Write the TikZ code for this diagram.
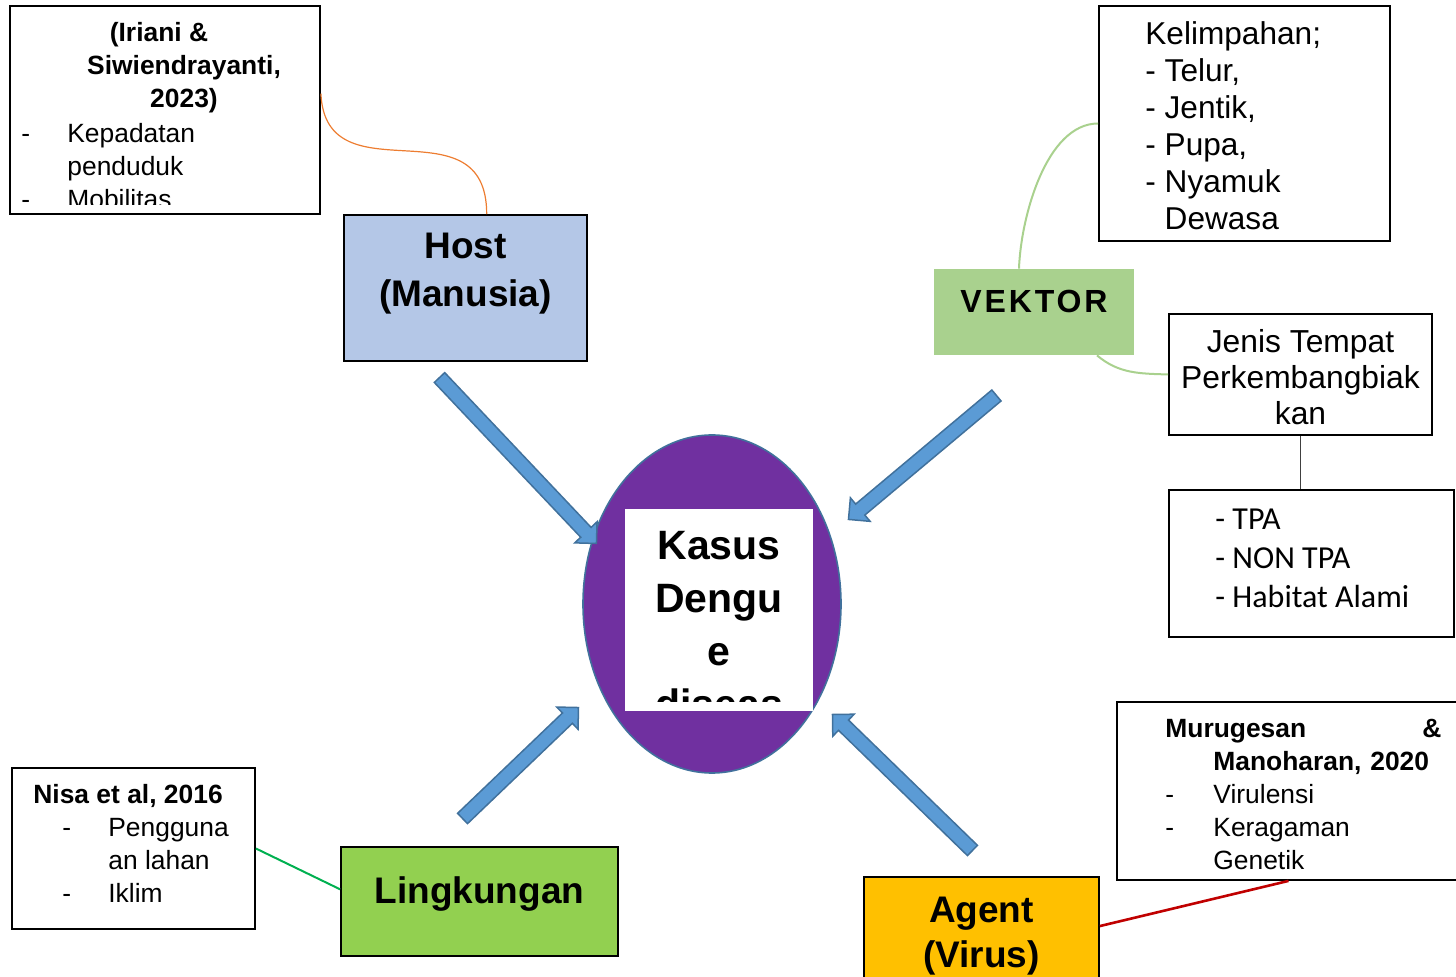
\documentclass[tikz,border=0pt]{standalone}
\usepackage{fontspec}
\setmainfont{Liberation Sans}
\newfontfamily\calibrilike{Carlito}
\usetikzlibrary{shapes.geometric,shapes.arrows,calc}

\definecolor{hostfill}{HTML}{B4C7E7}
\definecolor{vektorfill}{HTML}{A9D18E}
\definecolor{lingkfill}{HTML}{92D050}
\definecolor{agentfill}{HTML}{FFC000}
\definecolor{dengue}{HTML}{7030A0}
\definecolor{arrowblue}{HTML}{5B9BD5}
\definecolor{arrowedge}{HTML}{41719C}
\definecolor{linkorange}{HTML}{ED7D31}
\definecolor{linkgreen}{HTML}{00B050}
\definecolor{linkred}{HTML}{C00000}

\tikzset{
  refbox/.style={draw, line width=0.9pt, inner sep=0pt},
  factor/.style={draw, line width=0.9pt, inner sep=0pt},
  factorlabel/.style={font=\bfseries\fontsize{18.5}{24}\selectfont, align=center, inner sep=0pt},
  refnote/.style={font=\fontsize{13.2}{16.5}\selectfont, align=left, inner sep=0pt},
  bignote/.style={font=\fontsize{15.8}{18.5}\selectfont, inner sep=0pt},
  bigarrow/.style={single arrow, draw=arrowedge, fill=arrowblue, line width=0.75pt,
    inner sep=3.2pt, single arrow head extend=4.1pt},
}
% block arrow from #2 to #3, named #1
\newcommand{\blockarrow}[3]{\path let \p1=($(#3)-(#2)$), \n1={veclen(\x1,\y1)}, \n2={atan2(\y1,\x1)} in node[bigarrow, minimum height=\n1, rotate=\n2, anchor=tail] (#1) at (#2) {};}

\begin{document}
\begin{tikzpicture}[x=0.5pt, y=-0.5pt]
\useasboundingbox (0,0) rectangle (1456,977);
\clip (0,0) rectangle (1456,977);

% centre
\node[ellipse, draw=arrowedge, fill=dengue, line width=0.8pt, minimum width=129pt, minimum height=169pt, inner sep=0pt] (disease) at (712,604) {};
\node[fill=white, minimum width=94pt, minimum height=101pt, inner sep=0pt] (kasusbox) at (719,610) {};
\begin{scope}
  \clip (kasusbox.north west) rectangle ([yshift=5pt]kasusbox.south east);
  \node[font=\bfseries\fontsize{20.5}{26.5}\selectfont, align=center, inner sep=0pt] (kasustext) at (719,625.5) {Kasus\\Dengu\\e\\diseas};
\end{scope}

% factors
\node[factor, fill=hostfill, minimum width=121.5pt, minimum height=73pt] (host) at (465.5,288) {};
\node[factorlabel, yshift=7pt] (hostlabel) at (host) {Host\\(Manusia)};
\node[fill=vektorfill, minimum width=100pt, minimum height=43pt, inner sep=0pt] (vektor) at (1034,312) {};
\node[font=\bfseries\fontsize{16}{19}\selectfont\addfontfeature{LetterSpace=9}, inner sep=0pt, yshift=5.5pt] (vektorlabel) at (vektor) {VEKTOR};
\node[factor, fill=lingkfill, minimum width=138.5pt, minimum height=54.5pt] (lingk) at (479.5,901.5) {};
\node[factorlabel, yshift=3.75pt] (lingklabel) at (lingk) {Lingkungan};
\node[factor, fill=agentfill, minimum width=117.5pt, minimum height=61.5pt] (agent) at (981.5,938.5) {};
\node[factorlabel, font=\bfseries\fontsize{18.5}{22.5}\selectfont, yshift=1pt] (agentlabel) at (agent) {Agent\\(Virus)};

% references
\node[refbox, minimum width=155pt, minimum height=104pt] (iriani) at (165,110) {};
\begin{scope}
  \clip (iriani.north west) rectangle ([yshift=5pt]iriani.south east);
  \node[refnote, font=\bfseries\fontsize{13.2}{16.5}\selectfont, align=center] (irianihead) at (184,68) {\hspace*{-25pt}(Iriani \&\\Siwiendrayanti,\\2023)};
  \node[refnote, anchor=west] (irianilist) at (21,166) {\makebox[23pt][l]{-}Kepadatan\\\hspace*{23pt}penduduk\\\makebox[23pt][l]{-}Mobilitas};
\end{scope}

\node[refbox, minimum width=145.5pt, minimum height=117.5pt] (abundance) at (1244.5,123.5) {};
\node[bignote, align=left, anchor=west] (abundancetext) at (1145,125.5) {Kelimpahan;\\- Telur,\\- Jentik,\\- Pupa,\\- Nyamuk\\\phantom{- }Dewasa};

\node[refbox, minimum width=131.5pt, minimum height=60.5pt] (jenis) at (1300.5,374.5) {};
\node[bignote, font=\fontsize{15.9}{18}\selectfont, align=center] (jenistext) at (1300.5,377) {Jenis Tempat\\Perkembangbiak\\kan};
\node[refbox, minimum width=142.5pt, minimum height=73.5pt] (tpa) at (1311.5,563.5) {};
\node[font=\calibrilike\fontsize{16}{19.5}\selectfont, align=left, anchor=west, inner sep=0pt] (tpatext) at (1215,558) {- TPA\\- NON TPA\\- Habitat Alami};

\node[refbox, minimum width=181.5pt, minimum height=89pt] (murug) at (1298.5,791) {};
\node[refnote, anchor=west, text width=138pt] (murugtext) at (1165,794) {\textbf{Murugesan\hfill\&}\\\hspace*{24pt}\textbf{Manoharan, 2020}\\\makebox[24pt][l]{-}Virulensi\\\makebox[24pt][l]{-}Keragaman\\\hspace*{24pt}Genetik};

\node[refbox, minimum width=121.5pt, minimum height=80.5pt] (nisa) at (133.5,848.5) {};
\node[refnote, anchor=west] (nisatext) at (33,843.5) {\textbf{Nisa et al, 2016}\\\hspace*{14.5pt}\makebox[23pt][l]{-}Pengguna\\\hspace*{37.5pt}an lahan\\\hspace*{14.5pt}\makebox[23pt][l]{-}Iklim};

% links to the references
\draw[linkorange, line width=0.6pt] (iriani.6) .. controls +(5,107) and +(0,-115) .. (host.74);
\draw[vektorfill, line width=1pt] ([xshift=-7.5pt]vektor.north) to[out=88, in=180, looseness=0.8] (abundance.west);
\draw[vektorfill, line width=1pt] ([xshift=31.5pt]vektor.south) to[out=-40, in=178] (jenis.west);
\draw[black!75, line width=0.5pt] (jenis.south) -- (jenis.south |- tpa.north);
\draw[linkgreen, line width=1pt] (nisa.east) -- (lingk.175);
\draw[linkred, line width=1.3pt] (agent.6) -- ([xshift=-5pt]murug.south);

% arrows into the centre
\coordinate (hosttail) at (439,377);
\coordinate (hosttip) at (596,543);
\coordinate (vektortail) at (997,395);
\coordinate (vektortip) at (849,519);
\coordinate (lingktail) at (462,819);
\coordinate (lingktip) at (578,708);
\coordinate (agenttail) at (973,851);
\coordinate (agenttip) at (833,715);
\blockarrow{hostarrow}{hosttail}{hosttip}
\blockarrow{vektorarrow}{vektortail}{vektortip}
\blockarrow{lingkarrow}{lingktail}{lingktip}
\blockarrow{agentarrow}{agenttail}{agenttip}
\end{tikzpicture}
\end{document}
